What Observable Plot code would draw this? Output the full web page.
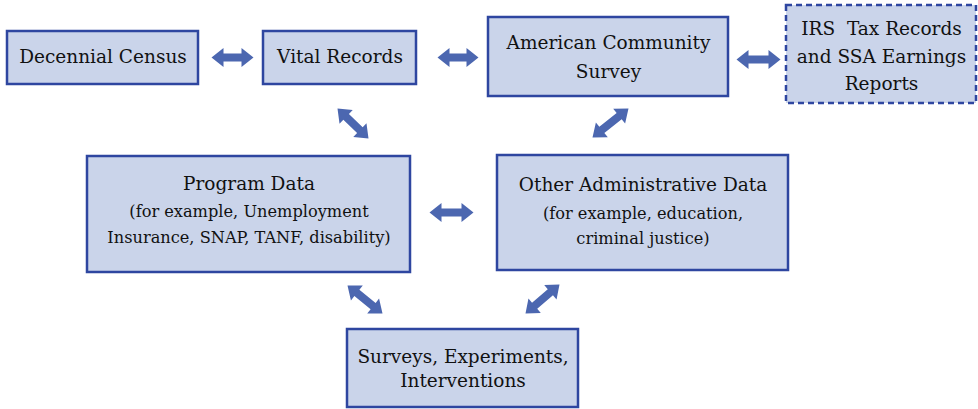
<!DOCTYPE html>
<html>
<head>
<meta charset="utf-8">
<script src="https://cdn.jsdelivr.net/npm/d3@7"></script>
<script src="https://cdn.jsdelivr.net/npm/@observablehq/plot@0.6"></script>
<style>
  html, body { margin: 0; padding: 0; background: #fff; }
  #chart svg { display: block; }
</style>
</head>
<body>
<div id="chart"></div>
<script>
// Boxes (diagram nodes), in diagram pixel units
const boxX1 = [7, 263, 488, 786, 87, 497, 347];
const boxX2 = [198, 416, 728, 976, 410, 788, 578];
const boxY1 = [31, 31, 17, 5, 156, 155, 329];
const boxY2 = [84, 84, 96, 103, 272, 270, 407];
const boxDashed = [false, false, false, true, false, false, false];

// Box titles (one entry per box), first-line centre and line spacing
const titleText = ["Decennial Census", "Vital Records", "American Community\nSurvey",
                   "IRS  Tax Records\nand SSA Earnings\nReports", "Program Data",
                   "Other Administrative Data", "Surveys, Experiments,\nInterventions"];
const titleY = [57, 57, 43, 29, 184, 185, 357];
const titleSpacing = [0, 0, 29, 27.5, 0, 0, 24];

// Box subtitles (only for two boxes)
const subBox = [4, 5];
const subText = ["(for example, Unemployment\nInsurance, SNAP, TANF, disability)",
                 "(for example, education,\ncriminal justice)"];
const subY = [211, 213];
const subSpacing = [26, 25.5];

// Double-headed arrows: endpoints
const arrowX0 = [211, 437, 736, 429, 337, 628, 347, 559];
const arrowY0 = [57, 57, 59, 212, 108, 108, 285, 284];
const arrowX1 = [253, 478, 780, 473, 368, 592, 382, 525];
const arrowY1 = [57, 57, 59, 212, 138, 137, 313, 313];

const boxes = boxX1.map((x1, i) => ({
  x1, x2: boxX2[i], y1: boxY1[i], y2: boxY2[i], dashed: boxDashed[i],
  cx: (x1 + boxX2[i]) / 2
}));

const titleLines = [];
titleText.forEach((t, i) => t.split("\n").forEach((line, k) =>
  titleLines.push({text: line, x: boxes[i].cx, y: titleY[i] + k * titleSpacing[i]})));
const subLines = [];
subText.forEach((t, j) => t.split("\n").forEach((line, k) =>
  subLines.push({text: line, x: boxes[subBox[j]].cx, y: subY[j] + k * subSpacing[j]})));

// Build block double-arrow outlines from endpoints
const S = 4, H = 9.5, L = 12;
const arrowPts = [];
arrowX0.forEach((x0, i) => {
  const y0 = arrowY0[i], x1 = arrowX1[i], y1 = arrowY1[i];
  const len = Math.hypot(x1 - x0, y1 - y0);
  const ux = (x1 - x0) / len, uy = (y1 - y0) / len;
  const nx = -uy, ny = ux;
  const P = (a, b) => ({id: i, x: a, y: b});
  arrowPts.push(
    P(x0, y0),
    P(x0 + ux*L + nx*H, y0 + uy*L + ny*H),
    P(x0 + ux*L + nx*S, y0 + uy*L + ny*S),
    P(x1 - ux*L + nx*S, y1 - uy*L + ny*S),
    P(x1 - ux*L + nx*H, y1 - uy*L + ny*H),
    P(x1, y1),
    P(x1 - ux*L - nx*H, y1 - uy*L - ny*H),
    P(x1 - ux*L - nx*S, y1 - uy*L - ny*S),
    P(x0 + ux*L - nx*S, y0 + uy*L - ny*S),
    P(x0 + ux*L - nx*H, y0 + uy*L - ny*H),
    P(x0, y0)
  );
});

const fill = "#cad4ea", stroke = "#2e46a0", arrowColor = "#4c67b0";
const font = "DejaVu Serif";

const chart = Plot.plot({
  width: 978, height: 409,
  margin: 0,
  x: {axis: null, domain: [0, 978], range: [0, 978]},
  y: {axis: null, domain: [0, 409], range: [0, 409]},
  style: {background: "#fff", fontFamily: font},
  marks: [
    Plot.rect(boxes.filter(d => !d.dashed), {x1: "x1", x2: "x2", y1: "y1", y2: "y2",
      fill, stroke, strokeWidth: 2.5}),
    Plot.rect(boxes.filter(d => d.dashed), {x1: "x1", x2: "x2", y1: "y1", y2: "y2",
      fill, stroke, strokeWidth: 2.5, strokeDasharray: "6,4"}),
    Plot.line(arrowPts, {x: "x", y: "y", z: "id", fill: arrowColor, stroke: "none"}),
    Plot.text(titleLines, {x: "x", y: "y", text: "text", fontSize: 18.5, fill: "#111",
      fontFamily: font, textAnchor: "middle"}),
    Plot.text(subLines, {x: "x", y: "y", text: "text", fontSize: 16.2, fill: "#111",
      fontFamily: font, textAnchor: "middle"})
  ]
});
document.getElementById("chart").appendChild(chart);
</script>
</body>
</html>
